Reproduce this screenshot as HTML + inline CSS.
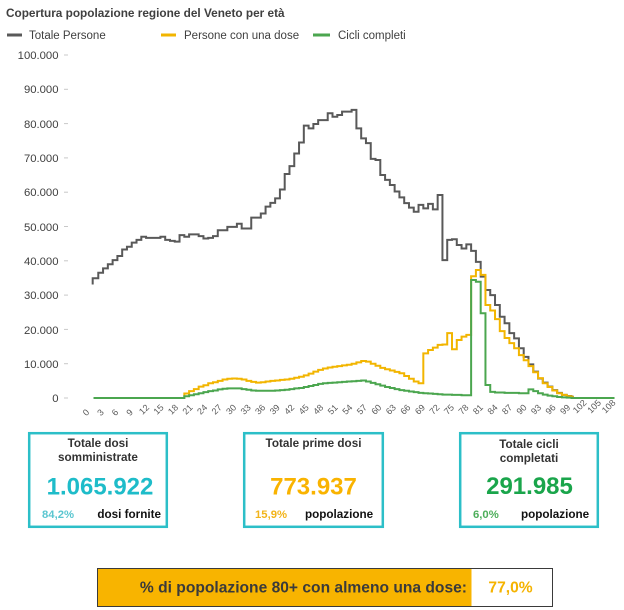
<!DOCTYPE html>
<html><head><meta charset="utf-8">
<style>
html,body{margin:0;padding:0;background:#fff;}
svg{display:block;font-family:"Liberation Sans",Arial,sans-serif;}
.xl{font-size:9px;fill:#595959;text-anchor:middle;}
.yl{font-size:11.3px;fill:#404040;text-anchor:end;}
.lg{font-size:11.5px;fill:#404040;}
.bt{font-size:11.7px;font-weight:bold;fill:#333;text-anchor:middle;}
.bl{font-size:11.7px;font-weight:bold;fill:#111;}
.num{font-size:24px;font-weight:bold;text-anchor:middle;}
</style></head>
<body>
<svg width="624" height="610" viewBox="0 0 624 610" xmlns="http://www.w3.org/2000/svg">
<rect width="624" height="610" fill="#fff"/>
<text x="6" y="17" font-size="11.8" font-weight="bold" fill="#404040">Copertura popolazione regione del Veneto per età</text>
<line x1="7" y1="35" x2="22" y2="35" stroke="#595959" stroke-width="3"/>
<text class="lg" x="29" y="39">Totale Persone</text>
<line x1="161" y1="35" x2="176" y2="35" stroke="#F2B500" stroke-width="3"/>
<text class="lg" x="184" y="39">Persone con una dose</text>
<line x1="313" y1="35" x2="330" y2="35" stroke="#4BA64F" stroke-width="3"/>
<text class="lg" x="338" y="39">Cicli completi</text>

<g class="yl">
<text x="58.5" y="59">100.000</text>
<text x="58.5" y="93">90.000</text>
<text x="58.5" y="128">80.000</text>
<text x="58.5" y="162">70.000</text>
<text x="58.5" y="196">60.000</text>
<text x="58.5" y="231">50.000</text>
<text x="58.5" y="265">40.000</text>
<text x="58.5" y="299">30.000</text>
<text x="58.5" y="334">20.000</text>
<text x="58.5" y="368">10.000</text>
<text x="58.5" y="402">0</text>
</g>
<g stroke="#c8c8c8" stroke-width="1">
<line x1="64" y1="55" x2="68" y2="55"/><line x1="64" y1="89.3" x2="68" y2="89.3"/>
<line x1="64" y1="123.6" x2="68" y2="123.6"/><line x1="64" y1="157.9" x2="68" y2="157.9"/>
<line x1="64" y1="192.2" x2="68" y2="192.2"/><line x1="64" y1="226.5" x2="68" y2="226.5"/>
<line x1="64" y1="260.8" x2="68" y2="260.8"/><line x1="64" y1="295.1" x2="68" y2="295.1"/>
<line x1="64" y1="329.4" x2="68" y2="329.4"/><line x1="64" y1="363.7" x2="68" y2="363.7"/>
<line x1="64" y1="398" x2="68" y2="398"/>
</g>

<g transform="translate(93.5,398) scale(4.78,-3.43)" fill="none" stroke-linejoin="miter">
<path vector-effect="non-scaling-stroke" stroke="#595959" stroke-width="2" d="M-0.17 33.1 V34.9 H1 V36.5 H2 V37.8 H3 V39 H4 V40.2 H5 V41.4 H6 V43.3 H7 V44.1 H8 V45.3 H9 V46.1 H10 V47 H11 V46.7 H14 V47 H15 V46.1 H16 V45.8 H17 V45.6 H18 V47.5 H19 V47 H20 V47.7 H22 V47.2 H23 V46.5 H24 V46.7 H25 V47.2 H26 V48.9 H28 V49.9 H30 V50.8 H31 V49.4 H33 V52.6 H35 V53.8 H36 V55.8 H37 V56.9 H38 V58.2 H39 V60.8 H40 V65.3 H41 V67.6 H42 V71.3 H43 V74.5 H44 V79.4 H45 V78.6 H46 V79.9 H47 V81 H49 V83 H50 V82 H51 V82.5 H52 V83.5 H54 V84 H55 V78.6 H56 V75.7 H57 V74.3 H58 V69.7 H59 V69.4 H60 V65 H61 V63.6 H62 V62.1 H63 V60.2 H64 V58.5 H65 V56.8 H66 V55.5 H67 V54.3 H68 V56.3 H69 V55.3 H70 V56.6 H71 V55 H72 V59.2 H73 V40.2 H74 V46.1 H75 V46.3 H76 V44.6 H77 V43.6 H78 V44.8 H79 V42.9 H80 V39.7 H81 V35.4 H82 V31.5 H83 V30 H84 V27.1 H85 V23.7 H86 V21.8 H87 V18.9 H88 V17.4 H89 V14.5 H90 V12 H91 V9.8 H92 V7.7 H93 V5.7 H94 V4.5 H95 V3.3 H96 V2.3 H97 V1.5 H98 V0.9 H99 V0.6 H100 V0.35 H100.5"/>
<path vector-effect="non-scaling-stroke" stroke="#F2B500" stroke-width="2" d="M0 0 H19 V1.3 H20 V2 H21 V2.6 H22 V3.3 H23 V3.7 H24 V4.3 H25 V4.6 H26 V5 H27 V5.4 H28 V5.6 H29 V5.7 H30 V5.6 H31 V5.4 H32 V5 H33 V4.7 H34 V4.5 H35 V4.6 H36 V4.8 H37 V5 H38 V5.1 H39 V5.3 H40 V5.4 H41 V5.6 H42 V5.9 H43 V6.2 H44 V6.6 H45 V7.1 H46 V7.7 H47 V8.2 H48 V8.6 H49 V8.9 H50 V9.1 H51 V9.3 H52 V9.5 H53 V9.7 H54 V10 H55 V10.4 H56 V10.8 H57 V10.6 H58 V10 H59 V9.4 H60 V8.8 H61 V8.4 H62 V8 H63 V7.6 H64 V7.2 H65 V6.4 H66 V5.6 H67 V4.8 H68 V4.3 H69 V13 H70 V14 H71 V14.7 H72 V15.5 H73 V15.6 H74 V18.9 H75 V14.2 H76 V16.9 H77 V17.9 H78 V18.4 H79 V35.5 H80 V37.3 H81 V35.9 H82 V27.1 H83 V25.5 H84 V23 H85 V19.5 H86 V17.5 H87 V16 H88 V14.5 H89 V12.5 H90 V11 H91 V9.3 H92 V7.5 H93 V5.8 H94 V4.3 H95 V3.2 H96 V2.2 H97 V1.4 H98 V0.9 H99 V0.5 H100 V0.25 H100.5"/>
<path vector-effect="non-scaling-stroke" stroke="#4BA64F" stroke-width="2" d="M0 0 H19 V0.5 H20 V0.8 H21 V1.1 H22 V1.4 H23 V1.7 H24 V2 H25 V2.2 H26 V2.5 H27 V2.7 H28 V2.8 H31 V2.6 H32 V2.4 H33 V2.2 H34 V2.1 H38 V2.2 H39 V2.3 H40 V2.4 H41 V2.6 H42 V2.8 H43 V2.9 H44 V3.2 H45 V3.5 H46 V3.8 H47 V4.1 H48 V4.3 H49 V4.4 H50 V4.5 H51 V4.6 H52 V4.7 H53 V4.8 H54 V4.9 H55 V5 H56 V5.1 H57 V4.8 H58 V4.4 H59 V4 H60 V3.6 H61 V3.2 H62 V2.9 H63 V2.6 H64 V2.3 H65 V2.1 H66 V1.9 H67 V1.7 H68 V1.5 H69 V1.4 H70 V1.3 H71 V1.2 H72 V1.1 H73 V1 H75 V0.9 H77 V0.8 H79 V34.4 H80 V33.9 H81 V24.7 H82 V3.8 H83 V1.8 H84 V1.6 H86 V1.5 H89 V1.4 H91 V2.5 H92 V2 H93 V1.4 H94 V1 H95 V0.7 H96 V0.5 H97 V0.3 H98 V0.2 H99 V0.1 H100 V0 H109"/>
</g>

<g class="xl">
<text transform="translate(86 412.5) rotate(-45)" dy="3">0</text>
<text transform="translate(100.5 412.5) rotate(-45)" dy="3">3</text>
<text transform="translate(115 412.5) rotate(-45)" dy="3">6</text>
<text transform="translate(129.6 412.5) rotate(-45)" dy="3">9</text>
<text transform="translate(144.1 409.5) rotate(-45)" dy="3">12</text>
<text transform="translate(158.6 409.5) rotate(-45)" dy="3">15</text>
<text transform="translate(173.1 409.5) rotate(-45)" dy="3">18</text>
<text transform="translate(187.6 409.5) rotate(-45)" dy="3">21</text>
<text transform="translate(202.2 409.5) rotate(-45)" dy="3">24</text>
<text transform="translate(216.7 409.5) rotate(-45)" dy="3">27</text>
<text transform="translate(231.2 409.5) rotate(-45)" dy="3">30</text>
<text transform="translate(245.7 409.5) rotate(-45)" dy="3">33</text>
<text transform="translate(260.2 409.5) rotate(-45)" dy="3">36</text>
<text transform="translate(274.8 409.5) rotate(-45)" dy="3">39</text>
<text transform="translate(289.3 409.5) rotate(-45)" dy="3">42</text>
<text transform="translate(303.8 409.5) rotate(-45)" dy="3">45</text>
<text transform="translate(318.3 409.5) rotate(-45)" dy="3">48</text>
<text transform="translate(332.8 409.5) rotate(-45)" dy="3">51</text>
<text transform="translate(347.4 409.5) rotate(-45)" dy="3">54</text>
<text transform="translate(361.9 409.5) rotate(-45)" dy="3">57</text>
<text transform="translate(376.4 409.5) rotate(-45)" dy="3">60</text>
<text transform="translate(390.9 409.5) rotate(-45)" dy="3">63</text>
<text transform="translate(405.4 409.5) rotate(-45)" dy="3">66</text>
<text transform="translate(420 409.5) rotate(-45)" dy="3">69</text>
<text transform="translate(434.5 409.5) rotate(-45)" dy="3">72</text>
<text transform="translate(449 409.5) rotate(-45)" dy="3">75</text>
<text transform="translate(463.5 409.5) rotate(-45)" dy="3">78</text>
<text transform="translate(478 409.5) rotate(-45)" dy="3">81</text>
<text transform="translate(492.6 409.5) rotate(-45)" dy="3">84</text>
<text transform="translate(507.1 409.5) rotate(-45)" dy="3">87</text>
<text transform="translate(521.6 409.5) rotate(-45)" dy="3">90</text>
<text transform="translate(536.1 409.5) rotate(-45)" dy="3">93</text>
<text transform="translate(550.6 409.5) rotate(-45)" dy="3">96</text>
<text transform="translate(565.2 409.5) rotate(-45)" dy="3">99</text>
<text transform="translate(579.7 406.5) rotate(-45)" dy="3">102</text>
<text transform="translate(594.2 406.5) rotate(-45)" dy="3">105</text>
<text transform="translate(608.7 406.5) rotate(-45)" dy="3">108</text>
</g>

<!-- Boxes -->
<rect x="29.2" y="433.2" width="137.6" height="93.6" fill="none" stroke="#2CBFC8" stroke-width="2.5"/>
<rect x="244.2" y="433.2" width="138.6" height="93.6" fill="none" stroke="#2CBFC8" stroke-width="2.5"/>
<rect x="460.2" y="433.2" width="137.6" height="93.6" fill="none" stroke="#2CBFC8" stroke-width="2.5"/>

<text class="bt" x="98" y="447">Totale dosi</text>
<text class="bt" x="98" y="461">somministrate</text>
<text class="num" x="100" y="494.5" fill="#1EBCC9">1.065.922</text>
<text x="42" y="518" font-size="11.3" font-weight="bold" fill="#5AC6D0">84,2%</text>
<text class="bl" x="161" y="518" text-anchor="end">dosi fornite</text>

<text class="bt" x="313.5" y="447">Totale prime dosi</text>
<text class="num" x="313.5" y="494.5" fill="#F9B300">773.937</text>
<text x="255" y="518" font-size="11.3" font-weight="bold" fill="#F2B41A">15,9%</text>
<text class="bl" x="305" y="518">popolazione</text>

<text class="bt" x="529" y="448">Totale cicli</text>
<text class="bt" x="529" y="462">completati</text>
<text class="num" x="529.5" y="494" fill="#1AA54B">291.985</text>
<text x="473" y="518" font-size="11.3" font-weight="bold" fill="#4DAE5A">6,0%</text>
<text class="bl" x="521" y="518">popolazione</text>

<!-- Bottom bar -->
<rect x="97.5" y="568.5" width="374" height="38" fill="#F8B400"/>
<rect x="97.5" y="568.5" width="455" height="38" fill="none" stroke="#3a3a3a" stroke-width="1"/>
<text x="467" y="592.5" font-size="15.6" font-weight="bold" fill="#3a3a3a" text-anchor="end">% di popolazione 80+ con almeno una dose:</text>
<text x="510.5" y="592.5" font-size="15.6" font-weight="bold" fill="#F5B300" text-anchor="middle">77,0%</text>
</svg>
</body></html>
